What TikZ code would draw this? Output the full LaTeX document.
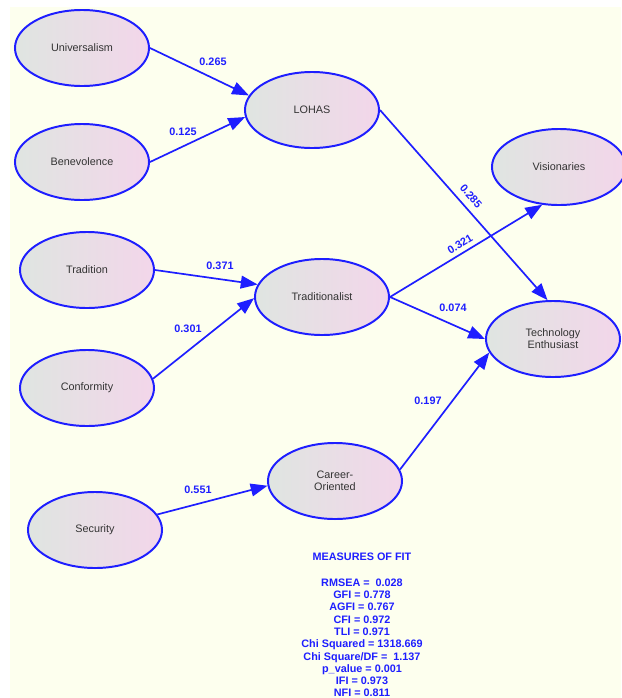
\documentclass[tikz,border=0pt]{standalone}
\usepackage{fontspec}
\setmainfont{Liberation Sans}
\usetikzlibrary{arrows.meta,shapes.geometric}
\definecolor{bgyellow}{HTML}{FDFFEE}
\definecolor{pathblue}{HTML}{1E1EFF}
\definecolor{shadegray}{HTML}{DFE5E1}
\definecolor{shadepink}{HTML}{F3D6EA}
\definecolor{nametext}{HTML}{333333}
\tikzset{
    latent/.style={ellipse,draw=pathblue,line width=1.4pt,left color=shadegray,right color=shadepink,
        minimum width=3.35cm,minimum height=1.9cm,inner sep=0pt,align=center,text=nametext,
        font=\fontsize{7.7}{8.6}\selectfont},
    path/.style={draw=pathblue,line width=1.2pt,-{Triangle[length=0.42cm,width=0.32cm]}},
    coef/.style={text=pathblue,font=\fontsize{7.7}{9}\selectfont\bfseries,inner sep=1pt}
}
\begin{document}
\begin{tikzpicture}[x=0.025cm,y=-0.025cm]
    \useasboundingbox (0,0) rectangle (621,698);
    \fill[bgyellow] (10,7) rectangle (621,698);
    % constructs
    \node[latent] (univ) at (82,48) {Universalism};
    \node[latent] (bene) at (82,162) {Benevolence};
    \node[latent] (trad) at (87,270) {Tradition};
    \node[latent] (conf) at (87,388) {Conformity};
    \node[latent] (secu) at (95,530) {Security};
    \node[latent] (lohas) at (312,110) {LOHAS};
    \node[latent] (tradist) at (322,297) {Traditionalist};
    \node[latent] (career) at (335,481) {Career-\\Oriented};
    \node[latent] (vision) at (559,167) {Visionaries};
    \node[latent] (tech) at (553,339) {Technology\\Enthusiast};
    % paths
    \draw[path] (univ.east) -- (lohas.167);
    \draw[path] (bene.east) -- (lohas.186);
    \draw[path] (trad.east) -- (tradist.169);
    \draw[path] (conf.8) -- (tradist.181);
    \draw[path] (secu.14) -- (career.184);
    \draw[path] (lohas.east) -- (tech.98);
    \draw[path] (tradist.east) -- (vision.246);
    \draw[path] (tradist.east) -- (tech.west);
    \draw[path] (career.10) -- (tech.192);
    % coefficients
    \node[coef] (c1) at (213,62) {0.265};
    \node[coef] (c2) at (183,132) {0.125};
    \node[coef] (c3) at (220,266) {0.371};
    \node[coef] (c4) at (188,329) {0.301};
    \node[coef] (c5) at (198,490) {0.551};
    \node[coef,rotate=-49] (c6) at (471,196) {0.285};
    \node[coef,rotate=31] (c7) at (460,244) {0.321};
    \node[coef] (c8) at (453,308) {0.074};
    \node[coef] (c9) at (428,401) {0.197};
    % fit
    \node[coef] (fit) at (362,557) {MEASURES OF FIT};
    \node[coef,align=center,anchor=north,font=\fontsize{7.7}{8.75}\selectfont\bfseries] (fitvals) at (362,577)
        {RMSEA = \ 0.028\\GFI = 0.778\\AGFI = 0.767\\CFI = 0.972\\TLI = 0.971\\Chi Squared = 1318.669\\
         Chi Square/DF = \ 1.137\\p\_value = 0.001\\IFI = 0.973\\NFI = 0.811};
\end{tikzpicture}
\end{document}
